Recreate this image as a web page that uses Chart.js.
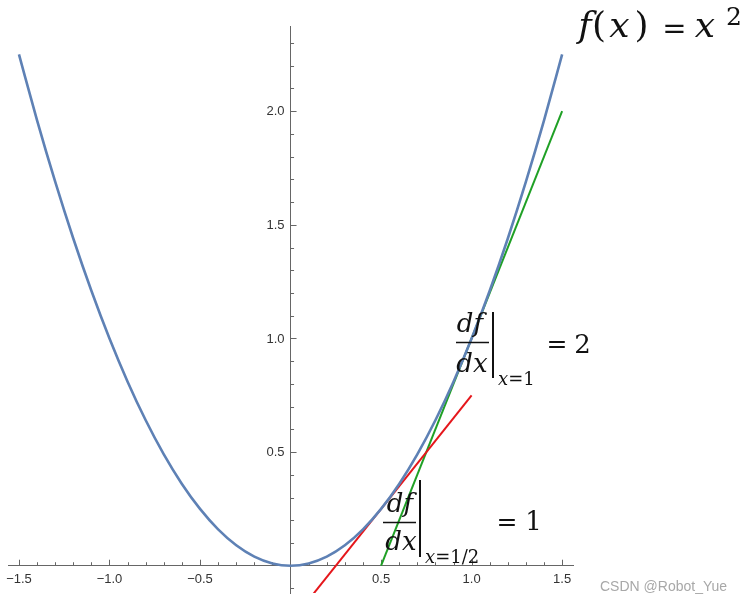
<!DOCTYPE html>
<html>
<head>
<meta charset="utf-8">
<script src="https://cdn.jsdelivr.net/npm/chart.js@4"></script>
<style>
html,body{margin:0;padding:0;background:#fff;}
#wrap{position:relative;width:741px;height:602px;}
</style>
</head>
<body>
<div id="wrap"><canvas id="c" width="741" height="602"></canvas></div>
<script>
// f(x) = x^2
const curveX = [-1.5,-1.4,-1.3,-1.2,-1.1,-1.0,-0.9,-0.8,-0.7,-0.6,-0.5,-0.4,-0.3,-0.2,-0.1,0,0.1,0.2,0.3,0.4,0.5,0.6,0.7,0.8,0.9,1.0,1.1,1.2,1.3,1.4,1.5];
const curveY = [2.25,1.96,1.69,1.44,1.21,1.0,0.81,0.64,0.49,0.36,0.25,0.16,0.09,0.04,0.01,0,0.01,0.04,0.09,0.16,0.25,0.36,0.49,0.64,0.81,1.0,1.21,1.44,1.69,1.96,2.25];
// tangent at x = 1/2 (slope 1)
const redX = [0.125, 1.0];
const redY = [-0.125, 0.75];
// tangent at x = 1 (slope 2)
const greenX = [0.5, 1.5];
const greenY = [0, 2];
// tick labels
const xTickValues = [-1.5,-1.0,-0.5,0.5,1.0,1.5];
const yTickValues = [0.5,1.0,1.5,2.0];

const pts = (xs, ys) => xs.map((x,i)=>({x, y: ys[i]}));
const fmt = v => (v < 0 ? '\u2212' : '') + Math.abs(v).toFixed(1);
const TICK_FONT = '13px "Liberation Sans"';

const axisDecor = {
  id: 'axisDecor',
  beforeDatasetsDraw(chart) {
    const {ctx, scales:{x, y}} = chart;
    const x0 = x.getPixelForValue(0), y0 = y.getPixelForValue(0);
    ctx.save();
    ctx.strokeStyle = '#666';
    ctx.lineWidth = 1;
    ctx.beginPath();
    for (let i = -15; i <= 15; i++) {
      if (i === 0) continue;
      const px = Math.round(x.getPixelForValue(i/10)) + 0.5;
      const len = (i % 5 === 0) ? 6 : 3.5;
      ctx.moveTo(px, y0); ctx.lineTo(px, y0 - len);
    }
    for (let j = -1; j <= 23; j++) {
      if (j === 0) continue;
      const py = Math.round(y.getPixelForValue(j/10)) + 0.5;
      const len = (j % 5 === 0) ? 6 : 3.5;
      ctx.moveTo(x0, py); ctx.lineTo(x0 + len, py);
    }
    ctx.stroke();
    // y tick labels, left of the vertical axis
    ctx.fillStyle = '#333';
    ctx.font = TICK_FONT;
    ctx.textAlign = 'right';
    ctx.textBaseline = 'middle';
    for (const v of yTickValues) {
      ctx.fillText(fmt(v), x0 - 6, y.getPixelForValue(v) + 0.5);
    }
    ctx.restore();
  }
};

function run(ctx, parts, x, base) {
  let cx = x;
  for (const p of parts) {
    ctx.font = p[1];
    ctx.fillText(p[0], cx, base);
    cx += ctx.measureText(p[0]).width + (p[2]||0);
  }
}

const notes = {
  id: 'notes',
  afterDraw(chart) {
    const ctx = chart.ctx;
    ctx.save();
    ctx.fillStyle = '#111';
    ctx.strokeStyle = '#111';
    ctx.textBaseline = 'alphabetic';
    const it = s => 'italic ' + s + 'px "DejaVu Serif"';
    const rg = s => s + 'px "DejaVu Serif"';
    ctx.textAlign = 'center';
    // f(x) = x^2
    ctx.font = it(36); ctx.fillText('f', 585, 37);
    ctx.font = rg(36); ctx.fillText('(', 599, 37);
    ctx.font = it(36); ctx.fillText('x', 619.5, 37);
    ctx.font = rg(36); ctx.fillText(')', 641.5, 37);
    ctx.font = rg(29); ctx.fillText('=', 674.5, 38);
    ctx.font = it(36); ctx.fillText('x', 705, 37);
    ctx.font = rg(25); ctx.fillText('2', 734, 25);

    // df/dx |x=1 = 2
    ctx.font = it(26); ctx.fillText('df', 470, 332);
    ctx.fillText('dx', 472, 372);
    ctx.lineWidth = 1.5;
    ctx.beginPath(); ctx.moveTo(456, 342.5); ctx.lineTo(489, 342.5); ctx.stroke();
    ctx.lineWidth = 2;
    ctx.beginPath(); ctx.moveTo(493, 312); ctx.lineTo(493, 378); ctx.stroke();
    ctx.font = rg(25); ctx.fillText('=', 557, 352); ctx.font = rg(26); ctx.fillText('2', 582.5, 353);
    ctx.textAlign = 'left';
    run(ctx, [['x', it(18)], ['=1', rg(18)]], 498, 385);

    // df/dx |x=1/2 = 1
    ctx.textAlign = 'center';
    ctx.font = it(26); ctx.fillText('df', 400, 512);
    ctx.fillText('dx', 401, 550);
    ctx.lineWidth = 1.5;
    ctx.beginPath(); ctx.moveTo(383, 522.5); ctx.lineTo(416, 522.5); ctx.stroke();
    ctx.lineWidth = 2;
    ctx.beginPath(); ctx.moveTo(420, 480); ctx.lineTo(420, 557); ctx.stroke();
    ctx.font = rg(25); ctx.fillText('=', 507, 530); ctx.font = rg(26); ctx.fillText('1', 533.5, 530);
    ctx.textAlign = 'left';
    run(ctx, [['x', it(18)], ['=1/2', rg(18)]], 425, 563);

    // watermark
    ctx.fillStyle = '#a8a8a8';
    ctx.font = '14px "Liberation Sans"';
    ctx.fillText('CSDN @Robot_Yue', 600, 591);
    ctx.restore();
  }
};

new Chart(document.getElementById('c'), {
  type: 'scatter',
  data: {
    datasets: [
      { data: pts(curveX, curveY), showLine: true, borderColor: '#5E81B5', borderWidth: 2.6, pointRadius: 0, cubicInterpolationMode: 'monotone' },
      { data: pts(redX, redY), showLine: true, borderColor: '#E5161B', borderWidth: 2, pointRadius: 0 },
      { data: pts(greenX, greenY), showLine: true, borderColor: '#1FA025', borderWidth: 2, pointRadius: 0 }
    ]
  },
  options: {
    responsive: false,
    animation: false,
    layout: { padding: { left: 7, right: 168, top: 26, bottom: 9 } },
    plugins: { legend: { display: false }, tooltip: { enabled: false } },
    scales: {
      x: {
        type: 'linear', min: -1.56, max: 1.56,
        position: { y: 0 },
        grid: { display: false, drawTicks: false },
        border: { display: true, color: '#666', width: 1 },
        afterBuildTicks: s => { s.ticks = xTickValues.map(v => ({ value: v })); },
        ticks: { autoSkip: false, maxRotation: 0, padding: 6, color: '#333', font: { family: '"Liberation Sans"', size: 13 }, callback: v => fmt(v) }
      },
      y: {
        type: 'linear', min: -0.12, max: 2.375,
        position: { x: 0 },
        grid: { display: false, drawTicks: false },
        border: { display: true, color: '#666', width: 1 },
        afterBuildTicks: s => { s.ticks = yTickValues.map(v => ({ value: v })); },
        ticks: { display: false }
      }
    }
  },
  plugins: [axisDecor, notes]
});
</script>
</body>
</html>
